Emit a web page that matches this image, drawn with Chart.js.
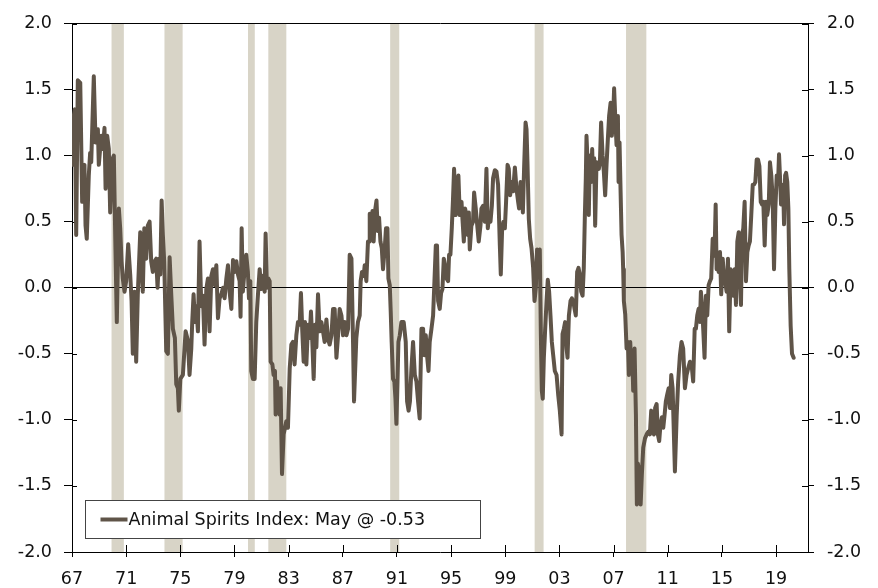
<!DOCTYPE html>
<html>
<head>
<meta charset="utf-8">
<title>Animal Spirits Index</title>
<script src="https://cdn.jsdelivr.net/npm/chart.js@4.4.1/dist/chart.umd.min.js"></script>
<style>
  html, body { margin: 0; padding: 0; background: #fff; }
  #wrap { width: 878px; height: 588px; }
</style>
</head>
<body>
<div id="wrap"><canvas id="chart" width="878" height="588"></canvas></div>
<script>
// Animal Spirits Index, monthly
const months = [
  1967.00, 1967.13, 1967.21, 1967.31, 1967.43, 1967.61, 1967.75, 1967.92, 1968.00, 1968.09,
  1968.24, 1968.34, 1968.42, 1968.61, 1968.74, 1968.91, 1968.98, 1969.16, 1969.28, 1969.40,
  1969.48, 1969.60, 1969.72, 1969.82, 1969.97, 1970.09, 1970.21, 1970.31, 1970.46, 1970.56,
  1970.66, 1970.75, 1970.88, 1971.00, 1971.15, 1971.30, 1971.40, 1971.49, 1971.62, 1971.74,
  1971.86, 1972.04, 1972.14, 1972.23, 1972.34, 1972.48, 1972.60, 1972.73, 1972.85, 1972.97,
  1973.10, 1973.22, 1973.32, 1973.42, 1973.52, 1973.62, 1973.71, 1973.81, 1973.96, 1974.08,
  1974.21, 1974.33, 1974.45, 1974.60, 1974.70, 1974.82, 1974.89, 1975.00, 1975.19, 1975.39,
  1975.56, 1975.68, 1975.81, 1975.88, 1975.98,
  1976.08, 1976.18, 1976.30, 1976.42, 1976.55, 1976.67, 1976.79, 1976.92, 1977.04, 1977.16,
  1977.29, 1977.41, 1977.53, 1977.66, 1977.78, 1977.90, 1978.03, 1978.15, 1978.27, 1978.40,
  1978.52, 1978.64, 1978.77, 1978.89, 1979.01, 1979.14, 1979.26, 1979.38, 1979.45, 1979.53,
  1979.62, 1979.75, 1979.87, 1979.99, 1980.07, 1980.17, 1980.24, 1980.36, 1980.49, 1980.61,
  1980.73, 1980.86, 1980.98, 1981.10, 1981.23, 1981.30, 1981.40, 1981.50, 1981.60, 1981.67,
  1981.80, 1981.89, 1981.99, 1982.04, 1982.14, 1982.24, 1982.34, 1982.41, 1982.51, 1982.63,
  1982.73, 1982.83, 1982.95, 1983.08, 1983.20, 1983.32, 1983.44, 1983.57, 1983.69, 1983.81,
  1983.91, 1984.01, 1984.11, 1984.21, 1984.31, 1984.43, 1984.55, 1984.65, 1984.75, 1984.85,
  1984.95, 1985.05, 1985.17, 1985.29, 1985.42, 1985.54, 1985.66, 1985.79, 1985.91, 1986.03,
  1986.16, 1986.28, 1986.40, 1986.53, 1986.65, 1986.77, 1986.90, 1987.02, 1987.14, 1987.27,
  1987.39, 1987.51, 1987.64, 1987.76, 1987.83, 1988.00, 1988.12, 1988.25, 1988.32, 1988.42,
  1988.54, 1988.62, 1988.74, 1988.86, 1988.94, 1988.99, 1989.08, 1989.19, 1989.28, 1989.38,
  1989.49, 1989.58, 1989.68, 1989.78, 1989.88, 1989.97, 1990.10, 1990.19, 1990.30, 1990.37,
  1990.47, 1990.54, 1990.61, 1990.71, 1990.81, 1990.89, 1990.96, 1991.04, 1991.11, 1991.21,
  1991.33, 1991.50, 1991.65, 1991.75, 1991.86, 1991.96, 1992.07, 1992.19, 1992.32, 1992.44,
  1992.56, 1992.68, 1992.81, 1992.93, 1993.03, 1993.13, 1993.22, 1993.33, 1993.42, 1993.55,
  1993.67, 1993.77, 1993.87, 1993.96, 1994.04, 1994.16, 1994.26, 1994.36, 1994.46, 1994.55,
  1994.66, 1994.78, 1994.85, 1994.95, 1995.05, 1995.14, 1995.22, 1995.34, 1995.44, 1995.54,
  1995.64, 1995.77, 1995.84, 1995.94, 1996.03, 1996.14, 1996.23, 1996.31, 1996.38, 1996.50,
  1996.62, 1996.70, 1996.82, 1996.95, 1997.04, 1997.17, 1997.24, 1997.36, 1997.49, 1997.61,
  1997.71, 1997.81, 1997.91, 1998.01, 1998.10, 1998.23, 1998.35, 1998.47, 1998.60, 1998.67,
  1998.77, 1998.87, 1998.97, 1999.06, 1999.17, 1999.26, 1999.36, 1999.46, 1999.58, 1999.71,
  1999.83, 1999.95, 2000.02, 2000.13, 2000.22, 2000.30, 2000.39, 2000.50, 2000.57, 2000.64,
  2000.74, 2000.84, 2000.94, 2001.06, 2001.16, 2001.26, 2001.35, 2001.46, 2001.55, 2001.63,
  2001.70, 2001.77, 2001.85, 2001.94, 2002.05, 2002.14, 2002.24, 2002.34, 2002.44, 2002.54,
  2002.66, 2002.79, 2002.91, 2003.03, 2003.16, 2003.23, 2003.33, 2003.42, 2003.53, 2003.60,
  2003.70, 2003.82, 2003.92, 2004.02, 2004.12, 2004.21, 2004.31, 2004.41, 2004.51, 2004.61,
  2004.71, 2004.80, 2004.88, 2004.95, 2005.00, 2005.10, 2005.17, 2005.25, 2005.35, 2005.42,
  2005.49, 2005.57, 2005.64, 2005.74, 2005.82, 2005.91, 2005.99, 2006.08, 2006.19, 2006.28,
  2006.38, 2006.48, 2006.58, 2006.67, 2006.78, 2006.87, 2006.97, 2007.04, 2007.12, 2007.22,
  2007.32, 2007.37, 2007.44, 2007.52, 2007.59, 2007.67, 2007.71, 2007.76, 2007.86, 2007.96,
  2008.06, 2008.13, 2008.23, 2008.30, 2008.38, 2008.45, 2008.55, 2008.65, 2008.72, 2008.79,
  2008.89, 2009.00, 2009.09, 2009.19, 2009.32, 2009.44, 2009.56, 2009.68, 2009.78, 2009.88,
  2009.98, 2010.07, 2010.18, 2010.27, 2010.37, 2010.47, 2010.57, 2010.67, 2010.77, 2010.86,
  2010.96, 2011.07, 2011.16, 2011.26, 2011.36, 2011.53, 2011.66, 2011.77, 2011.90, 2012.02,
  2012.14, 2012.27, 2012.39, 2012.51, 2012.64, 2012.76, 2012.88, 2012.99, 2013.08, 2013.18,
  2013.28, 2013.38, 2013.45, 2013.55, 2013.62, 2013.72, 2013.82, 2013.92, 2014.02, 2014.12,
  2014.21, 2014.32, 2014.39, 2014.46, 2014.54, 2014.61, 2014.69, 2014.76, 2014.86, 2014.95,
  2015.06, 2015.15, 2015.25, 2015.35, 2015.45, 2015.54, 2015.65, 2015.74, 2015.84, 2015.94,
  2016.04, 2016.14, 2016.24, 2016.34, 2016.41, 2016.49, 2016.58, 2016.68, 2016.78, 2016.88,
  2016.98, 2017.07, 2017.17, 2017.28, 2017.37, 2017.47, 2017.57, 2017.67, 2017.77, 2017.87,
  2017.96, 2018.06, 2018.16, 2018.26, 2018.35, 2018.46, 2018.55, 2018.65, 2018.75, 2018.85,
  2018.95, 2019.05, 2019.15, 2019.22, 2019.30, 2019.37, 2019.45, 2019.54, 2019.59, 2019.67,
  2019.74, 2019.83, 2019.91, 2019.98, 2020.08, 2020.18, 2020.30
];

const spirits = [
  0.93, 1.30, 1.35, 0.40, 1.57, 1.55, 0.65, 0.93, 0.47, 0.37,
  0.85, 1.02, 0.95, 1.60, 1.10, 1.20, 0.93, 1.15, 1.05, 1.21,
  0.75, 1.15, 1.05, 0.57, 0.97, 1.00, 0.29, -0.26, 0.60, 0.45,
  0.20, 0.07, -0.03, 0.05, 0.33, 0.10, -0.10, -0.50, -0.03, -0.56,
  -0.05, 0.42, 0.14, -0.03, 0.45, 0.22, 0.47, 0.50, 0.20, 0.12,
  0.20, 0.22, 0.00, 0.22, 0.10, 0.66, 0.40, 0.20, -0.48, -0.50,
  0.23, -0.05, -0.31, -0.38, -0.73, -0.76, -0.93, -0.69, -0.66, -0.33,
  -0.40, -0.66, -0.46, -0.26, -0.05,
  -0.26, -0.14, -0.33, 0.35, -0.14, -0.06, -0.43, -0.01, 0.07, -0.33,
  0.09, 0.14, 0.02, 0.17, -0.23, -0.08, -0.05, 0.00, -0.08, 0.07,
  0.17, -0.03, -0.16, 0.21, 0.12, 0.20, 0.10, 0.05, -0.22, 0.45,
  -0.03, 0.14, 0.25, 0.12, -0.08, 0.05, -0.63, -0.69, -0.69, -0.26,
  -0.06, 0.14, -0.01, 0.09, -0.03, 0.41, 0.00, 0.07, 0.05, -0.56,
  -0.58, -0.66, -0.63, -0.96, -0.71, -0.84, -0.96, -0.76, -1.41, -1.11,
  -1.06, -1.01, -1.06, -0.61, -0.43, -0.41, -0.58, -0.36, -0.26, -0.28,
  -0.04, -0.33, -0.56, -0.26, -0.58, -0.28, -0.38, -0.18, -0.41, -0.69,
  -0.28, -0.45, -0.05, -0.33, -0.26, -0.33, -0.41, -0.24, -0.39, -0.43,
  -0.36, -0.16, -0.16, -0.53, -0.36, -0.16, -0.21, -0.36, -0.26, -0.36,
  -0.31, 0.25, 0.22, -0.43, -0.86, -0.38, -0.26, -0.21, 0.05, 0.12,
  0.09, 0.17, 0.05, 0.35, 0.35, 0.56, 0.45, 0.58, 0.35, 0.58,
  0.66, 0.43, 0.53, 0.35, 0.30, 0.14, 0.30, 0.45, 0.45, 0.07,
  0.02, -0.18, -0.41, -0.69, -0.71, -0.84, -1.03, -0.71, -0.41, -0.36,
  -0.26, -0.26, -0.41, -0.86, -0.93, -0.86, -0.61, -0.41, -0.66, -0.71,
  -0.86, -0.99, -0.31, -0.31, -0.51, -0.36, -0.51, -0.63, -0.41, -0.31,
  -0.21, 0.05, 0.32, 0.32, -0.10, -0.16, -0.04, -0.01, 0.22, 0.17,
  0.07, 0.05, 0.25, 0.25, 0.45, 0.67, 0.90, 0.55, 0.60, 0.85,
  0.55, 0.65, 0.52, 0.35, 0.60, 0.55, 0.40, 0.57, 0.29, 0.47,
  0.50, 0.72, 0.60, 0.45, 0.35, 0.47, 0.60, 0.62, 0.50, 0.90,
  0.45, 0.55, 0.50, 0.62, 0.83, 0.89, 0.88, 0.78, 0.32, 0.10,
  0.45, 0.50, 0.45, 0.65, 0.93, 0.90, 0.70, 0.80, 0.73, 0.91,
  0.75, 0.65, 0.60, 0.80, 0.73, 0.57, 0.90, 1.25, 1.20, 0.95,
  0.52, 0.37, 0.30, 0.15, -0.10, 0.00, 0.29, 0.24, 0.29, -0.36,
  -0.78, -0.84, -0.53, -0.33, -0.10, 0.06, -0.03, -0.21, -0.41, -0.51,
  -0.63, -0.66, -0.81, -0.93, -1.11, -0.35, -0.31, -0.26, -0.46, -0.53,
  -0.21, -0.10, -0.08, -0.10, -0.16, -0.21, 0.12, 0.15, 0.10, -0.03,
  -0.06, 0.15, 0.55, 0.83, 1.15, 0.90, 0.55, 1.00, 0.80, 1.05,
  0.80, 0.98, 0.47, 0.95, 0.93, 0.90, 0.95, 1.25, 1.00, 0.88,
  0.70, 0.93, 1.13, 1.30, 1.40, 1.15, 1.30, 1.51, 1.30, 1.08,
  1.30, 0.80, 1.10, 0.72, 0.40, 0.27, 0.14, -0.10, -0.20, -0.46,
  -0.41, -0.66, -0.41, -0.58, -0.51, -0.78, -0.46, -0.96, -1.64, -1.33,
  -1.38, -1.64, -1.41, -1.21, -1.14, -1.11, -1.09, -1.11, -0.93, -1.09,
  -1.11, -0.91, -0.88, -1.11, -1.16, -1.03, -0.98, -1.06, -0.96, -0.86,
  -0.81, -0.76, -0.91, -0.66, -0.76, -1.39, -0.97, -0.71, -0.51, -0.41,
  -0.46, -0.76, -0.66, -0.61, -0.56, -0.58, -0.71, -0.31, -0.31, -0.21,
  -0.16, -0.26, -0.03, -0.16, -0.31, -0.53, -0.06, -0.21, 0.02, 0.05,
  0.07, 0.37, 0.24, 0.27, 0.63, 0.14, 0.24, 0.12, 0.27, -0.05,
  0.22, 0.09, 0.04, -0.03, 0.22, -0.33, 0.14, 0.09, -0.06, 0.14,
  -0.13, 0.35, 0.42, 0.05, -0.13, 0.40, 0.45, 0.65, 0.05, 0.27,
  0.32, 0.35, 0.55, 0.78, 0.78, 0.80, 0.97, 0.97, 0.92, 0.65,
  0.63, 0.65, 0.32, 0.65, 0.55, 0.63, 0.95, 0.85, 0.68, 0.14,
  0.60, 0.85, 0.80, 1.01, 0.82, 0.63, 0.78, 0.70, 0.48, 0.85,
  0.87, 0.80, 0.60, 0.14, -0.29, -0.50, -0.53
];

// NBER recessions (decimal years)
const recessionStart = [1969.92, 1973.83, 1980.00, 1981.50, 1990.50, 2001.17, 2007.92];
const recessionEnd   = [1970.83, 1975.17, 1980.50, 1982.83, 1991.17, 2001.83, 2009.42];

// axis ticks
const yearTicks = [1967, 1971, 1975, 1979, 1983, 1987, 1991, 1995, 1999, 2003, 2007, 2011, 2015, 2019];
const valueTicks = [-2.0, -1.5, -1.0, -0.5, 0.0, 0.5, 1.0, 1.5, 2.0];

const seriesLabel = 'Animal Spirits Index: May @ -0.53';

const colors = {
  line: '#5f5448',
  shade: '#d8d4c7',
  axis: '#000000',
  text: '#111111',
  legendBorder: '#444444'
};

const fontFamily = '"DejaVu Sans", Verdana, sans-serif';
const fontSize = 17.5;

// shaded recession bands, drawn under the grid and the line
const recessionPlugin = {
  id: 'recessions',
  beforeDraw(chart) {
    const { ctx, chartArea, scales } = chart;
    ctx.save();
    ctx.fillStyle = colors.shade;
    recessionStart.forEach((start, i) => {
      const x0 = scales.x.getPixelForValue(start);
      const x1 = scales.x.getPixelForValue(recessionEnd[i]);
      ctx.fillRect(x0, chartArea.top, x1 - x0, chartArea.bottom - chartArea.top);
    });
    ctx.restore();
  }
};

// small tick marks crossing into the plot area
const innerTicksPlugin = {
  id: 'innerTicks',
  beforeDatasetsDraw(chart) {
    const { ctx, chartArea, scales } = chart;
    ctx.save();
    ctx.strokeStyle = colors.axis;
    ctx.lineWidth = 1;
    ctx.beginPath();
    valueTicks.forEach(v => {
      const y = Math.round(scales.y.getPixelForValue(v)) + 0.5;
      ctx.moveTo(chartArea.left, y);
      ctx.lineTo(chartArea.left + 5, y);
      ctx.moveTo(chartArea.right - 6, y);
      ctx.lineTo(chartArea.right, y);
    });
    yearTicks.forEach(t => {
      const x = Math.round(scales.x.getPixelForValue(t)) + 0.5;
      ctx.moveTo(x, chartArea.bottom);
      ctx.lineTo(x, chartArea.bottom - 7);
    });
    ctx.stroke();
    ctx.restore();
  }
};

// boxed legend in the lower left corner of the plot
const boxLegendPlugin = {
  id: 'boxLegend',
  afterDraw(chart) {
    const { ctx, chartArea } = chart;
    const left = chartArea.left + 13.5;
    const top = chartArea.bottom - 51.5;
    const w = 395, h = 38;
    ctx.save();
    ctx.fillStyle = '#ffffff';
    ctx.fillRect(left, top, w, h);
    ctx.strokeStyle = colors.legendBorder;
    ctx.lineWidth = 1;
    ctx.strokeRect(left, top, w, h);
    const midY = top + h / 2;
    ctx.strokeStyle = colors.line;
    ctx.lineWidth = 4;
    ctx.beginPath();
    ctx.moveTo(left + 15, midY);
    ctx.lineTo(left + 42, midY);
    ctx.stroke();
    ctx.fillStyle = colors.text;
    ctx.font = fontSize + 'px ' + fontFamily;
    ctx.textBaseline = 'middle';
    ctx.textAlign = 'left';
    ctx.fillText(chart.data.datasets[0].label, left + 43, midY + 1);
    ctx.restore();
  }
};

const points = months.map((m, i) => ({ x: m, y: spirits[i] }));

const valueAxis = (position, tickLength, width) => ({
  type: 'linear',
  position,
  min: -2,
  max: 2,
  afterBuildTicks: scale => { scale.ticks = valueTicks.map(v => ({ value: v })); },
  afterFit: scale => { scale.width = width; },
  ticks: {
    color: colors.text,
    font: { family: fontFamily, size: fontSize },
    padding: position === 'left' ? 12 : 13,
    callback: v => Number(v).toFixed(1)
  },
  grid: {
    drawOnChartArea: position === 'left',
    color: c => (c.tick && (c.tick.value === 0 || c.tick.value === 2)) ? colors.axis : 'rgba(0,0,0,0)',
    tickColor: colors.axis,
    tickLength,
    lineWidth: 1
  },
  border: { display: true, color: colors.axis, width: 1 }
});

new Chart(document.getElementById('chart'), {
  type: 'line',
  data: {
    datasets: [{
      label: seriesLabel,
      data: points,
      borderColor: colors.line,
      borderWidth: 4,
      borderJoinStyle: 'round',
      borderCapStyle: 'round',
      pointRadius: 0,
      tension: 0,
      fill: false,
      yAxisID: 'y'
    }]
  },
  options: {
    responsive: false,
    animation: false,
    layout: { padding: { top: 21, left: 0, right: 0, bottom: 0 } },
    plugins: {
      legend: { display: false },
      tooltip: { enabled: false }
    },
    scales: {
      x: {
        type: 'linear',
        min: 1967,
        max: 2021.36,
        afterBuildTicks: scale => { scale.ticks = yearTicks.map(v => ({ value: v })); },
        afterFit: scale => { scale.height = 36; },
        ticks: {
          color: colors.text,
          font: { family: fontFamily, size: fontSize },
          autoSkip: false,
          maxRotation: 0,
          padding: 12,
          callback: v => String(v).slice(2)
        },
        grid: {
          drawOnChartArea: false,
          tickColor: colors.axis,
          tickLength: 5
        },
        border: { display: true, color: colors.axis, width: 1 }
      },
      y: valueAxis('left', 8, 72),
      y2: valueAxis('right', 6, 70)
    }
  },
  plugins: [recessionPlugin, innerTicksPlugin, boxLegendPlugin]
});
</script>
</body>
</html>
